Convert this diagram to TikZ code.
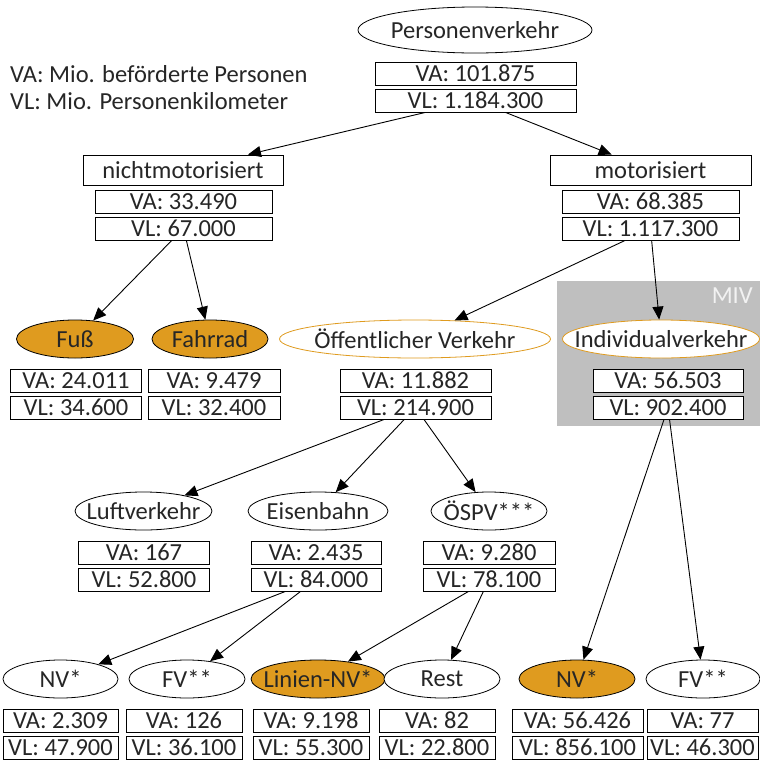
\documentclass[tikz,border=0pt]{standalone}
\usepackage{fontspec}
\setmainfont{Carlito}
\usepackage{tikz}
\usetikzlibrary{arrows.meta,shapes.geometric}
\definecolor{VerkehrOrange}{HTML}{DF9B1F}
\definecolor{VerkehrGray}{HTML}{BFBFBF}
\definecolor{VerkehrText}{HTML}{262626}

\begin{document}
\begin{tikzpicture}[
    x=1pt, y=-1pt,
    every node/.style={text=VerkehrText, font=\fontsize{24.5}{27}\selectfont},
    every label/.style={inner sep=0},
    ell/.style={ellipse, draw, line width=0.8pt, inner sep=0, minimum height=38pt, fill=white, label=center:{#1}},
    hl/.style={ell={#1}, fill=VerkehrOrange},
    oev/.style={ell={#1}, draw=VerkehrOrange},
    box/.style={draw, line width=0.9pt, inner sep=0, minimum height=23pt, fill=white},
    arr/.style={-{Triangle[length=13pt,width=11pt]}, line width=0.9pt}
  ]
    \useasboundingbox (0,0) rectangle (760,761);
    \node[fill=VerkehrGray, inner sep=0, minimum width=203pt, minimum height=145pt] (mivbg) at (658.5,353.5) {};
    \node[anchor=north east, text=white!95!black, inner sep=0] (miv) at (753,288) {MIV};

    \node[anchor=west, align=left, inner sep=0] (legend) at (10,88) {VA: Mio. beförderte Personen\\VL: Mio. Personenkilometer};

    \node[ell=Personenverkehr, minimum width=234pt, minimum height=46pt] (pv) at (475,30) {};
    \node[box, minimum width=201pt] (pvva) at (475.5,73.5) {VA: 101.875};
    \node[box, minimum width=201pt] (pvvl) at (475.5,100.5) {VL: 1.184.300};

    \node[box, minimum width=200pt, minimum height=30pt] (nm) at (183,170) {nichtmotorisiert};
    \node[box, minimum width=177pt] (nmva) at (183.5,201.5) {VA: 33.490};
    \node[box, minimum width=177pt] (nmvl) at (183.5,228.5) {VL: 67.000};
    \node[box, minimum width=201pt, minimum height=30pt] (mo) at (650.5,170) {motorisiert};
    \node[box, minimum width=177pt] (mova) at (650.5,201.5) {VA: 68.385};
    \node[box, minimum width=177pt] (movl) at (650.5,228.5) {VL: 1.117.300};

    \node[hl=Fuß, minimum width=117pt] (fuss) at (75,339) {};
    \node[box, minimum width=131pt] (fussva) at (76,380.5) {VA: 24.011};
    \node[box, minimum width=131pt] (fussvl) at (76,407.5) {VL: 34.600};
    \node[hl=Fahrrad, minimum width=116pt] (rad) at (210,339) {};
    \node[box, minimum width=132pt] (radva) at (214,380.5) {VA: 9.479};
    \node[box, minimum width=132pt] (radvl) at (214,407.5) {VL: 32.400};
    \node[oev=Öffentlicher Verkehr, minimum width=271pt] (oev) at (415,339) {};
    \node[box, minimum width=151pt] (oevva) at (415.5,380.5) {VA: 11.882};
    \node[box, minimum width=151pt] (oevvl) at (415.5,407.5) {VL: 214.900};
    \node[oev=Individualverkehr, minimum width=197pt] (iv) at (661,339) {};
    \node[box, minimum width=150pt] (ivva) at (668,380.5) {VA: 56.503};
    \node[box, minimum width=150pt] (ivvl) at (668,407.5) {VL: 902.400};

    \node[ell=Luftverkehr, minimum width=137pt] (luft) at (143.5,511) {};
    \node[box, minimum width=131pt] (luftva) at (144,552.5) {VA: 167};
    \node[box, minimum width=131pt] (luftvl) at (144,579.5) {VL: 52.800};
    \node[ell=Eisenbahn, minimum width=140pt] (bahn) at (318,511) {};
    \node[box, minimum width=130pt] (bahnva) at (316,552.5) {VA: 2.435};
    \node[box, minimum width=130pt] (bahnvl) at (316,579.5) {VL: 84.000};
    \node[ell=ÖSPV***, minimum width=116pt] (oespv) at (489,511) {};
    \node[box, minimum width=132pt] (oespvva) at (489,552.5) {VA: 9.280};
    \node[box, minimum width=132pt] (oespvvl) at (489,579.5) {VL: 78.100};

    \node[ell=NV*, minimum width=115pt] (bnv) at (60.5,679) {};
    \node[box, minimum width=115pt] (bnvva) at (60.5,720.5) {VA: 2.309};
    \node[box, minimum width=115pt] (bnvvl) at (60.5,747.5) {VL: 47.900};
    \node[ell=FV**, minimum width=116pt] (bfv) at (187,679) {};
    \node[box, minimum width=116pt] (bfvva) at (184,720.5) {VA: 126};
    \node[box, minimum width=116pt] (bfvvl) at (184,747.5) {VL: 36.100};
    \node[hl=Linien-NV*, minimum width=134pt] (lnv) at (318,679) {};
    \node[box, minimum width=116pt] (lnvva) at (311,720.5) {VA: 9.198};
    \node[box, minimum width=116pt] (lnvvl) at (311,747.5) {VL: 55.300};
    \node[ell=Rest, minimum width=116pt] (rest) at (442,679) {};
    \node[box, minimum width=116pt] (restva) at (437,720.5) {VA: 82};
    \node[box, minimum width=116pt] (restvl) at (437,747.5) {VL: 22.800};
    \node[hl=NV*, minimum width=116pt] (inv) at (577,679) {};
    \node[box, minimum width=131pt] (invva) at (577.5,720.5) {VA: 56.426};
    \node[box, minimum width=131pt] (invvl) at (577.5,747.5) {VL: 856.100};
    \node[ell=FV**, minimum width=114pt] (ifv) at (703,679) {};
    \node[box, minimum width=111pt] (ifvva) at (702.5,720.5) {VA: 77};
    \node[box, minimum width=111pt] (ifvvl) at (702.5,747.5) {VL: 46.300};

    \draw[arr] (pvvl) -- (nm);
    \draw[arr] (pvvl) -- (mo);
    \draw[arr] (nmvl) -- (fuss);
    \draw[arr] (nmvl) -- (rad);
    \draw[arr] (movl) -- (oev);
    \draw[arr] (movl) -- (iv);
    \draw[arr] (oevvl) -- (luft);
    \draw[arr] (oevvl) -- (bahn);
    \draw[arr] (oevvl) -- (oespv);
    \draw[arr] (bahnvl) -- (bnv);
    \draw[arr] (bahnvl) -- (bfv);
    \draw[arr] (oespvvl) -- (lnv);
    \draw[arr] (oespvvl) -- (rest);
    \draw[arr] (ivvl) -- (inv);
    \draw[arr] (ivvl) -- (ifv);
  \end{tikzpicture}
\end{document}
